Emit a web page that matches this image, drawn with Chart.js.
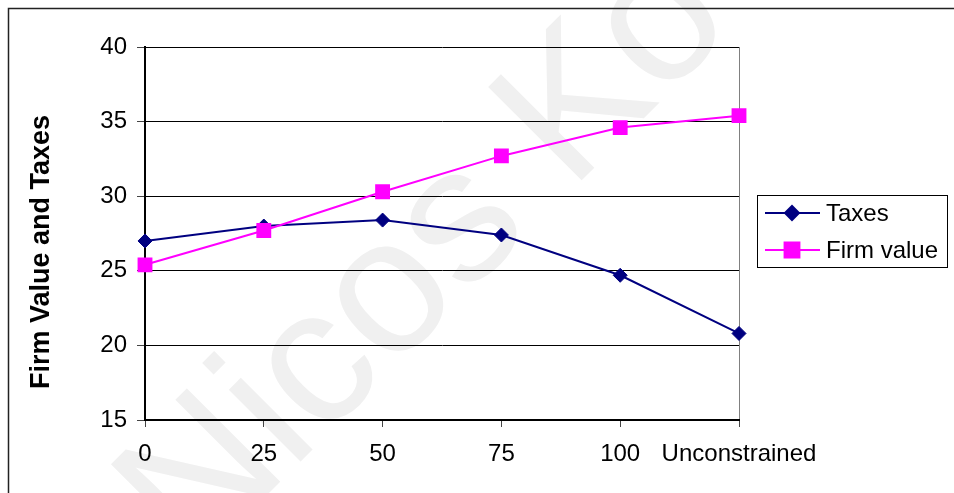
<!DOCTYPE html>
<html>
<head>
<meta charset="utf-8">
<title>Firm Value and Taxes</title>
<script src="https://cdn.jsdelivr.net/npm/chart.js@4.4.1/dist/chart.umd.min.js"></script>
<style>
  html, body { margin: 0; padding: 0; background: #fff; }
  #chart { display: block; }
</style>
</head>
<body>
<canvas id="chart" width="954" height="493"></canvas>
<script>
// DATA
const limits = ['0', '25', '50', '75', '100', 'Unconstrained'];
const taxes = [27.0, 28.0, 28.4, 27.4, 24.7, 20.8];
const firmValue = [25.4, 27.7, 30.3, 32.7, 34.6, 35.4];
const yMin = 15, yMax = 40, yStep = 5;
const yTitle = 'Firm Value and Taxes';
const watermark = 'Nicos Ko';

const FONT = 'Arial, "Liberation Sans", sans-serif';
const NAVY = '#000080';
const MAGENTA = '#FF00FF';

const ctx = document.getElementById('chart').getContext('2d');

// frame, watermark, axis title and legend box
const decorations = {
	id: 'decorations',
	beforeDraw(chart) {
		const c = chart.ctx;
		c.save();
		c.fillStyle = '#fff';
		c.fillRect(0, 0, chart.width, chart.height);

		// faint watermark text behind the plot
		c.translate(465, 297);
		c.rotate(-45 * Math.PI / 180);
		c.font = '192px ' + FONT;
		c.fillStyle = '#f0f0f0';
		c.textAlign = 'center';
		c.textBaseline = 'alphabetic';
		c.fillText(watermark, 0, 0);
		c.restore();

		c.save();
		c.strokeStyle = '#222';
		c.lineWidth = 1.5;
		c.strokeRect(8.5, 8.5, 1200, 1200);
		c.restore();
	},
	afterDraw(chart) {
		const c = chart.ctx;

		// y axis title
		c.save();
		c.translate(42, 252);
		c.rotate(-Math.PI / 2);
		c.font = 'bold 27px ' + FONT;
		c.fillStyle = '#000';
		c.textAlign = 'center';
		c.textBaseline = 'middle';
		c.fillText(yTitle, 0, 0);
		c.restore();

		// legend
		c.save();
		c.strokeStyle = '#000';
		c.lineWidth = 1;
		c.strokeRect(757.5, 195.5, 190, 72);
		c.font = '24px ' + FONT;
		c.textBaseline = 'middle';
		chart.data.datasets.forEach((ds, i) => {
			const y = 213 + i * 37;
			c.strokeStyle = ds.borderColor;
			c.lineWidth = ds.borderWidth;
			c.beginPath();
			c.moveTo(765, y);
			c.lineTo(820, y);
			c.stroke();
			c.fillStyle = ds.pointBackgroundColor;
			c.strokeStyle = ds.pointBorderColor;
			Chart.helpers.drawPoint(c, {
				pointStyle: ds.pointStyle,
				radius: ds.pointRadius,
				rotation: 0,
				borderWidth: 1
			}, 792, y);
			c.fillStyle = '#000';
			c.fillText(ds.label, 826, y + 1);
		});
		c.restore();
	}
};

const lastIndex = limits.length - 1;

new Chart(ctx, {
	type: 'line',
	data: {
		labels: limits,
		datasets: [{
			label: 'Taxes',
			data: taxes,
			borderColor: NAVY,
			backgroundColor: NAVY,
			pointBackgroundColor: NAVY,
			pointBorderColor: NAVY,
			pointStyle: 'rectRot',
			pointRadius: 7,
			pointBorderWidth: 1,
			borderWidth: 2,
			fill: false,
			tension: 0,
			order: 1
		}, {
			label: 'Firm value',
			data: firmValue,
			borderColor: MAGENTA,
			backgroundColor: MAGENTA,
			pointBackgroundColor: MAGENTA,
			pointBorderColor: MAGENTA,
			pointStyle: 'rect',
			pointRadius: 10.5,
			pointBorderWidth: 0,
			borderWidth: 2,
			fill: false,
			tension: 0,
			order: 0
		}]
	},
	options: {
		responsive: false,
		animation: false,
		layout: {
			padding: { top: 47, right: 215, bottom: 0, left: 0 }
		},
		plugins: {
			legend: { display: false },
			tooltip: { enabled: false }
		},
		scales: {
			x: {
				type: 'category',
				offset: false,
				afterFit: scale => { scale.height = 73; },
				border: { color: '#000', width: 2 },
				grid: {
					offset: false,
					drawOnChartArea: true,
					color: c => c.index === lastIndex ? '#808080' : 'rgba(0,0,0,0)',
					tickColor: '#444',
					tickLength: 7
				},
				ticks: {
					autoSkip: false,
					maxRotation: 0,
					color: '#000',
					padding: 13,
					font: { family: FONT, size: 24 }
				}
			},
			y: {
				min: yMin,
				max: yMax,
				afterFit: scale => { scale.width = 145; },
				border: { color: '#000', width: 2 },
				grid: {
					color: '#000',
					lineWidth: 1,
					tickColor: '#444',
					tickLength: 8
				},
				ticks: {
					stepSize: yStep,
					color: '#000',
					padding: 10,
					font: { family: FONT, size: 24 }
				}
			}
		}
	},
	plugins: [decorations]
});
</script>
</body>
</html>
